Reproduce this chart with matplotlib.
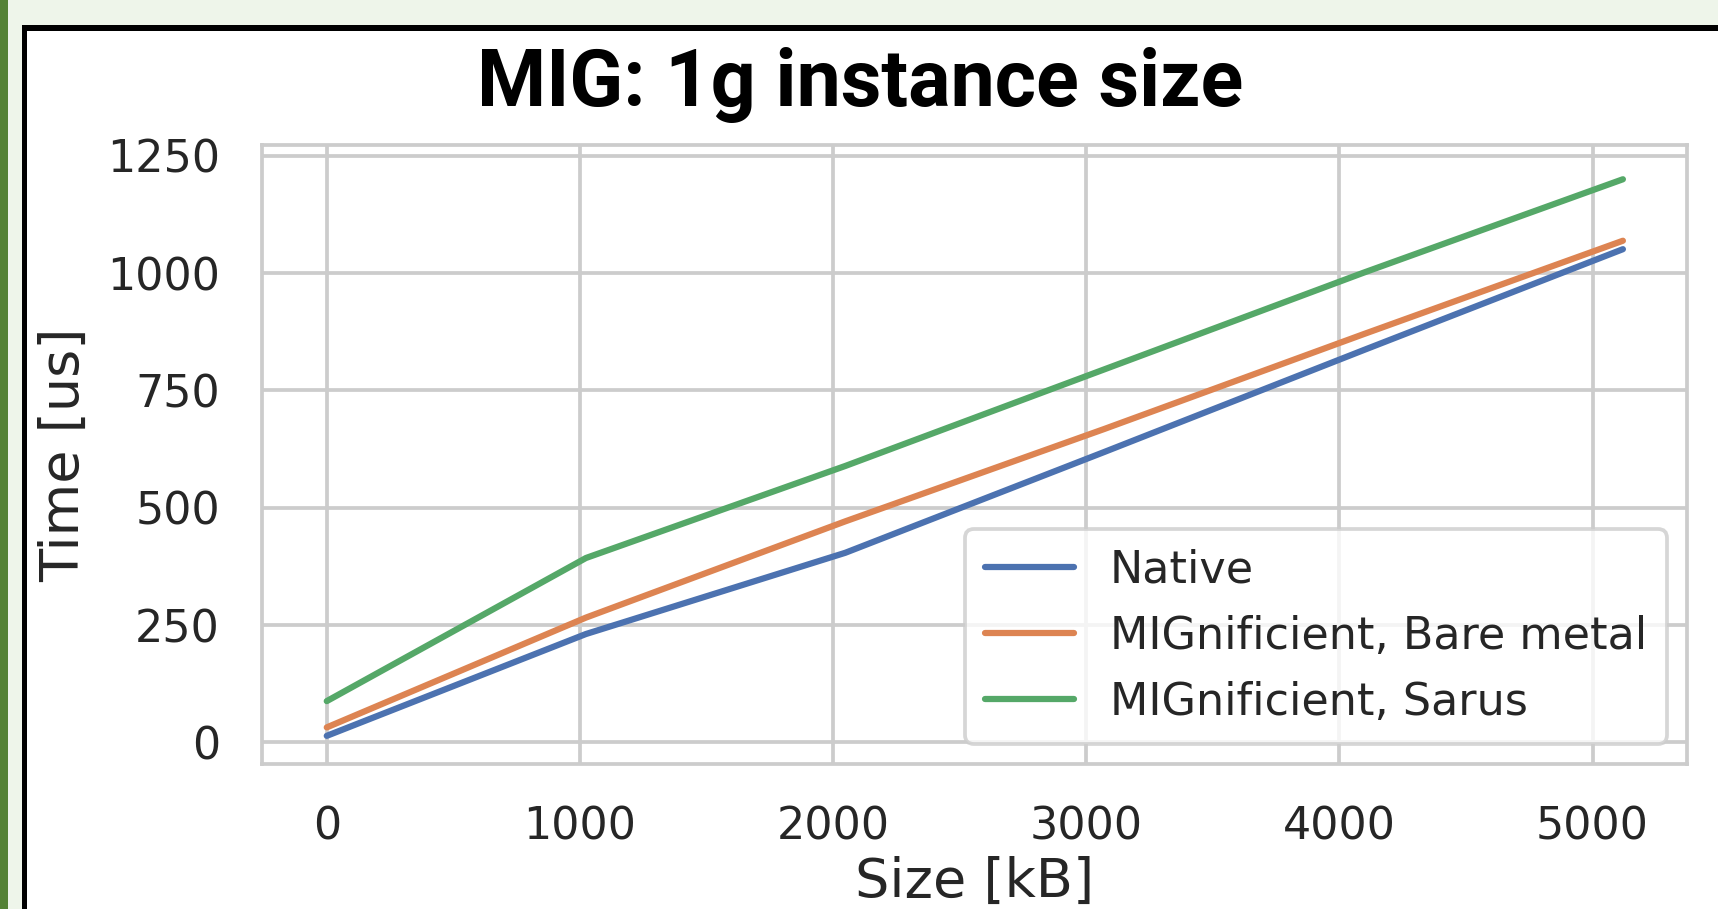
import matplotlib
matplotlib.use("Agg")
import matplotlib.pyplot as plt
from matplotlib.patches import Rectangle

# Data
sizes_kb = [0, 1024, 2048, 3072, 4096, 5120]
native = [14, 231, 404, 619, 836, 1051]
bare_metal = [32, 266, 471, 668, 870, 1069]
sarus = [88, 393, 589, 795, 1001, 1200]

series_labels = ["Native", "MIGnificient, Bare metal", "MIGnificient, Sarus"]
series_colors = ["#4c72b0", "#dd8452", "#55a868"]
xticks = [0, 1000, 2000, 3000, 4000, 5000]
yticks = [0, 250, 500, 750, 1000, 1250]

W, H = 1718, 909
fig = plt.figure(figsize=(W / 100, H / 100), dpi=100)
fig.patch.set_facecolor("#eef5ea")

# slide decoration: green side bar, black framed white panel
fig.patches.append(Rectangle((0, 0), 8 / W, 1, transform=fig.transFigure,
                             facecolor="#548235", edgecolor="none", zorder=-3))
fig.patches.append(Rectangle((22 / W, 0), 1, 1 - 25 / H, transform=fig.transFigure,
                             facecolor="black", edgecolor="none", zorder=-3))
fig.patches.append(Rectangle((27 / W, 0), 1, 1 - 31 / H, transform=fig.transFigure,
                             facecolor="white", edgecolor="none", zorder=-2))

ax = fig.add_axes([261.7 / W, 1 - 764 / H, (1686.7 - 261.7) / W, (764 - 145) / H])
ax.set_facecolor("white")

for y, lab, col in zip([native, bare_metal, sarus], series_labels, series_colors):
    ax.plot(sizes_kb, y, color=col, lw=4.5, label=lab, solid_capstyle="round")

ax.set_xlim(-257, 5372)
ax.set_ylim(-46, 1273)
ax.set_xticks(xticks)
ax.set_yticks(yticks)

ax.grid(True, color="#cccccc", lw=2.7)
ax.set_axisbelow(True)
for s in ax.spines.values():
    s.set_color("#cccccc")
    s.set_linewidth(2.7)
ax.tick_params(length=0, pad=30, labelsize=32, labelcolor="#262626")

ax.set_xlabel("Size [kB]", fontsize=39, color="#262626", va="center")
ax.xaxis.set_label_coords(0.5, -0.19)
ax.set_ylabel("Time [us]", fontsize=39, color="#262626", va="center")
ax.yaxis.set_label_coords((64 - 261.7) / 1425, 0.5)

leg = ax.legend(loc="lower right", fontsize=32, handlelength=2.0,
                handletextpad=0.8, labelspacing=0.52, borderaxespad=0.45,
                borderpad=0.45, framealpha=0.8, fancybox=True)
leg.get_frame().set_edgecolor("#cccccc")
leg.get_frame().set_linewidth(2.7)
for t in leg.get_texts():
    t.set_color("#262626")

fig.text(860 / W, 1 - 106 / H, "MIG: 1g instance size", ha="center", va="baseline",
         fontsize=57, fontweight="bold", family="Roboto", color="black")

fig.savefig("out.png", dpi=100, facecolor=fig.get_facecolor())
